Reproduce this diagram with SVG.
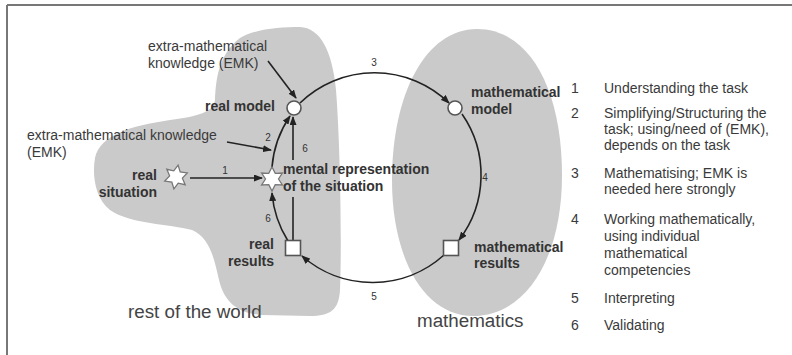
<svg xmlns="http://www.w3.org/2000/svg" width="792" height="355" viewBox="0 0 792 355">
<style>
.blob{fill:#cacaca;stroke:none}
.lbl{font-family:"Liberation Sans",Arial,sans-serif;font-size:14px;fill:#3a3a3a}
.bold{font-family:"Liberation Sans",Arial,sans-serif;font-size:14px;font-weight:bold;fill:#333}
.num{font-family:"Liberation Sans",Arial,sans-serif;font-size:10px;fill:#333;text-anchor:middle}
.big{font-family:"Liberation Sans",Arial,sans-serif;font-size:18.8px;fill:#444}
.leg{font-family:"Liberation Sans",Arial,sans-serif;font-size:14px;fill:#3a3a3a}
.edge{fill:none;stroke:#222;stroke-width:1.6;marker-end:url(#ah)}
.line{fill:none;stroke:#222;stroke-width:1.6}
.node{fill:#fff;stroke:#555;stroke-width:1.6}
.star{fill:#fff;stroke:#777;stroke-width:1.3}
</style>
<defs>
<marker id="ah" markerWidth="9" markerHeight="7" refX="8" refY="3.5" orient="auto" markerUnits="userSpaceOnUse">
<path d="M0,0 L9,3.5 L0,7 z" fill="#222"/>
</marker>
<path id="starShape" d="M0,-12 L3.25,-5.63 L10.39,-6 L6.5,0 L10.39,6 L3.25,5.63 L0,12 L-3.25,5.63 L-10.39,6 L-6.5,0 L-10.39,-6 L-3.25,-5.63 Z"/>
</defs>
<rect x="0" y="0" width="792" height="355" fill="#fff"/>
<line x1="7" y1="5" x2="792" y2="5" stroke="#777" stroke-width="2"/>
<line x1="7" y1="5" x2="7" y2="355" stroke="#777" stroke-width="2"/>

<g id="world">
<path class="blob" d="M300 27 C320 28 332 50 336 90 C340 140 342 240 340 290 C339 310 330 316 310 316 L262 315 C235 313 224 300 219 280 C214 258 210 238 192 230 C170 224 130 224 110 210 C95 198 92 175 95 158 C100 135 130 126 170 120 C200 116 213 112 215 100 C216 80 218 55 240 38 C255 29 280 27 300 27 Z"/>
<text class="big" x="128" y="318">rest of the world</text>
</g>
<g id="maths">
<path class="blob" d="M477 29 C530 29 562 90 562 175 C562 260 525 316 473 316 C425 316 392 260 392 180 C392 95 425 29 477 29 Z"/>
<text class="big" x="417" y="327">mathematics</text>
</g>

<g id="connectors">
<path class="edge" d="M190 178 L262 178"/>
<path class="edge" d="M272 167 A107 107 0 0 1 290 116"/>
<path class="edge" d="M300 103 A107 107 0 0 1 449 103"/>
<path class="edge" d="M462 114 A107 107 0 0 1 459 240"/>
<path class="edge" d="M444 255 A107 107 0 0 1 302 256"/>
<path class="edge" d="M288 241 A107 107 0 0 1 272 193"/>
<path class="line" d="M293 240 L293 197"/>
<path class="edge" d="M293 160 L293 117"/>
<path class="edge" d="M268 61 L296 98"/>
<path class="edge" d="M227 142 L271 150"/>
<text class="num" x="225" y="174">1</text>
<text class="num" x="268" y="141">2</text>
<text class="num" x="374" y="66">3</text>
<text class="num" x="485" y="181">4</text>
<text class="num" x="374" y="300">5</text>
<text class="num" x="305" y="152">6</text>
<text class="num" x="268" y="222">6</text>
</g>

<g id="emk1">
<text class="lbl" x="148" y="51">extra-mathematical</text>
<text class="lbl" x="148" y="68">knowledge (EMK)</text>
</g>
<g id="emk2">
<text class="lbl" x="27" y="140">extra-mathematical knowledge</text>
<text class="lbl" x="27" y="157">(EMK)</text>
</g>

<g id="real-situation">
<use href="#starShape" class="star" transform="translate(176,177) rotate(10)"/>
<text class="bold" x="157" y="180" text-anchor="end">real</text>
<text class="bold" x="157" y="197" text-anchor="end">situation</text>
</g>
<g id="mental-representation">
<use href="#starShape" class="star" transform="translate(272,179)"/>
<text class="bold" x="283" y="174">mental representation</text>
<text class="bold" x="283" y="191">of the situation</text>
</g>
<g id="real-model">
<circle class="node" cx="294" cy="108" r="7"/>
<text class="bold" x="275" y="111" text-anchor="end">real model</text>
</g>
<g id="mathematical-model">
<circle class="node" cx="455" cy="108" r="7"/>
<text class="bold" x="471" y="97">mathematical</text>
<text class="bold" x="471" y="114">model</text>
</g>
<g id="real-results">
<rect class="node" x="285.5" y="240.5" width="15" height="15"/>
<text class="bold" x="274" y="249" text-anchor="end">real</text>
<text class="bold" x="274" y="266" text-anchor="end">results</text>
</g>
<g id="mathematical-results">
<rect class="node" x="443.5" y="240.5" width="15" height="15"/>
<text class="bold" x="474" y="252">mathematical</text>
<text class="bold" x="474" y="268">results</text>
</g>

<g id="legend">
<text class="leg" x="571" y="93">1</text>
<text class="leg" x="604" y="93">Understanding the task</text>
<text class="leg" x="571" y="118">2</text>
<text class="leg" x="604" y="118">Simplifying/Structuring the</text>
<text class="leg" x="604" y="134">task; using/need of (EMK),</text>
<text class="leg" x="604" y="150">depends on the task</text>
<text class="leg" x="571" y="178">3</text>
<text class="leg" x="604" y="178">Mathematising; EMK is</text>
<text class="leg" x="604" y="194">needed here strongly</text>
<text class="leg" x="571" y="224">4</text>
<text class="leg" x="604" y="224">Working mathematically,</text>
<text class="leg" x="604" y="241">using individual</text>
<text class="leg" x="604" y="258">mathematical</text>
<text class="leg" x="604" y="275">competencies</text>
<text class="leg" x="571" y="303">5</text>
<text class="leg" x="604" y="303">Interpreting</text>
<text class="leg" x="571" y="330">6</text>
<text class="leg" x="604" y="330">Validating</text>
</g>
</svg>
